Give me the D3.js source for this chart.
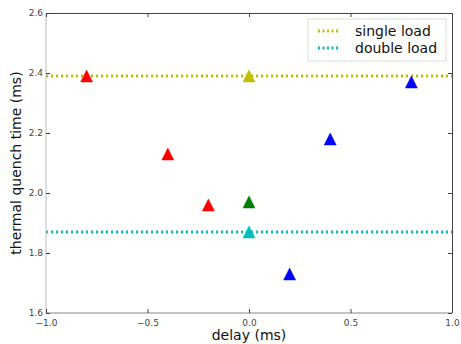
<!DOCTYPE html>
<html>
<head>
<meta charset="utf-8">
<script src="https://cdn.jsdelivr.net/npm/d3@7"></script>
<style>
  body { margin: 0; background: #fff; }
  text { font-family: "DejaVu Sans", sans-serif; }
</style>
</head>
<body>
<div id="chart"></div>
<script>
// data
const delays = [-0.8, -0.4, -0.2, 0.0, 0.0, 0.0, 0.2, 0.4, 0.8]
const quenchTimes = [2.39, 2.13, 1.96, 2.39, 1.97, 1.87, 1.73, 2.18, 2.37]
const pointColors = ["#ff0000", "#ff0000", "#ff0000", "#bfbf00", "#008000", "#00bfbf", "#0000ff", "#0000ff", "#0000ff"]

const refNames = ["single load", "double load"]
const refValues = [2.39, 1.87]
const refColors = ["#bfbf00", "#00bfbf"]

const xTicks = [-1.0, -0.5, 0.0, 0.5, 1.0]
const yTicks = [1.6, 1.8, 2.0, 2.2, 2.4, 2.6]

// dimensions
const W = 461, H = 344
const margin = { top: 13, right: 9, bottom: 31, left: 46 }
const width = W - margin.left - margin.right
const height = H - margin.top - margin.bottom

const svg = d3.select("#chart").append("svg")
    .attr("width", W)
    .attr("height", H)

const g = svg.append("g")
    .attr("transform", "translate(" + margin.left + "," + margin.top + ")")

const x = d3.scaleLinear().domain([-1, 1]).range([0, width])
const y = d3.scaleLinear().domain([1.6, 2.6]).range([height, 0])

const fmt = d => d3.format(".1f")(d).replace("-", "\u2212")

// horizontal reference lines (dotted)
g.selectAll(".ref")
    .data(refValues)
    .enter()
    .append("line")
    .attr("class", "ref")
    .attr("x1", 0)
    .attr("x2", width)
    .attr("y1", d => y(d))
    .attr("y2", d => y(d))
    .style("stroke", (d, i) => refColors[i])
    .style("stroke-width", 3)
    .style("stroke-dasharray", "2 3")

// triangles
g.selectAll(".pt")
    .data(delays)
    .enter()
    .append("path")
    .attr("class", "pt")
    .attr("d", "M0,-6L6,6L-6,6Z")
    .attr("transform", (d, i) => "translate(" + x(d) + "," + y(quenchTimes[i]) + ")")
    .style("fill", (d, i) => pointColors[i])
    .style("stroke", (d, i) => pointColors[i])
    .style("stroke-width", 0.5)

// frame
g.append("line").attr("x1", 0).attr("x2", width).attr("y1", 0.5).attr("y2", 0.5)
    .style("stroke", "#444").style("stroke-width", 1)
g.append("line").attr("x1", width + 0.5).attr("x2", width + 0.5).attr("y1", 0).attr("y2", height)
    .style("stroke", "#444").style("stroke-width", 1)
g.append("line").attr("x1", 0).attr("x2", width).attr("y1", height).attr("y2", height)
    .style("stroke", "#888").style("stroke-width", 1)
g.append("line").attr("x1", 0).attr("x2", 0).attr("y1", 0).attr("y2", height)
    .style("stroke", "#bbb").style("stroke-width", 1)

// axes, ticks pointing inward
const xAxis = d3.axisBottom(x).tickValues(xTicks).tickSize(-4).tickPadding(7).tickFormat(fmt)
const yAxis = d3.axisLeft(y).tickValues(yTicks).tickSize(-4).tickPadding(3).tickFormat(fmt)

g.append("g")
    .attr("class", "x-axis")
    .attr("transform", "translate(0," + height + ")")
    .call(xAxis)
    .call(a => a.select(".domain").remove())

g.append("g")
    .attr("class", "y-axis")
    .call(yAxis)
    .call(a => a.select(".domain").remove())

// top and right ticks
g.append("g").call(d3.axisTop(x).tickValues(xTicks).tickSize(-4).tickFormat(""))
    .call(a => a.select(".domain").remove())
g.append("g").attr("transform", "translate(" + width + ",0)")
    .call(d3.axisRight(y).tickValues(yTicks).tickSize(-4).tickFormat(""))
    .call(a => a.select(".domain").remove())

g.selectAll(".tick line").style("stroke", "#444")
g.selectAll(".x-axis .tick text, .y-axis .tick text")
    .style("font-family", "DejaVu Sans")
    .style("font-size", "9px")
    .style("fill", "#444")

// axis labels
svg.append("text")
    .text("delay (ms)")
    .attr("x", margin.left + width / 2)
    .attr("y", 340)
    .style("text-anchor", "middle")
    .style("font-size", "14px")
    .style("fill", "#111")

svg.append("text")
    .text("thermal quench time (ms)")
    .attr("transform", "translate(21," + (margin.top + height / 2) + ") rotate(-90)")
    .style("text-anchor", "middle")
    .style("font-size", "14px")
    .style("fill", "#111")

// legend
const lg = svg.append("g").attr("transform", "translate(308,19)")
lg.append("rect")
    .attr("x", 0).attr("y", 0)
    .attr("width", 138).attr("height", 42)
    .style("fill", "#fff")
    .style("stroke", "#ddd")
    .style("stroke-width", 1)

refNames.forEach((name, i) => {
    const ly = 12 + i * 17
    lg.append("line")
        .attr("x1", 10).attr("x2", 31)
        .attr("y1", ly).attr("y2", ly)
        .style("stroke", refColors[i])
        .style("stroke-width", 3)
        .style("stroke-dasharray", "2 2.5")
    lg.append("text")
        .text(name)
        .attr("x", 47)
        .attr("y", ly + 5)
        .style("font-size", "14px")
        .style("fill", "#111")
})
</script>
</body>
</html>
